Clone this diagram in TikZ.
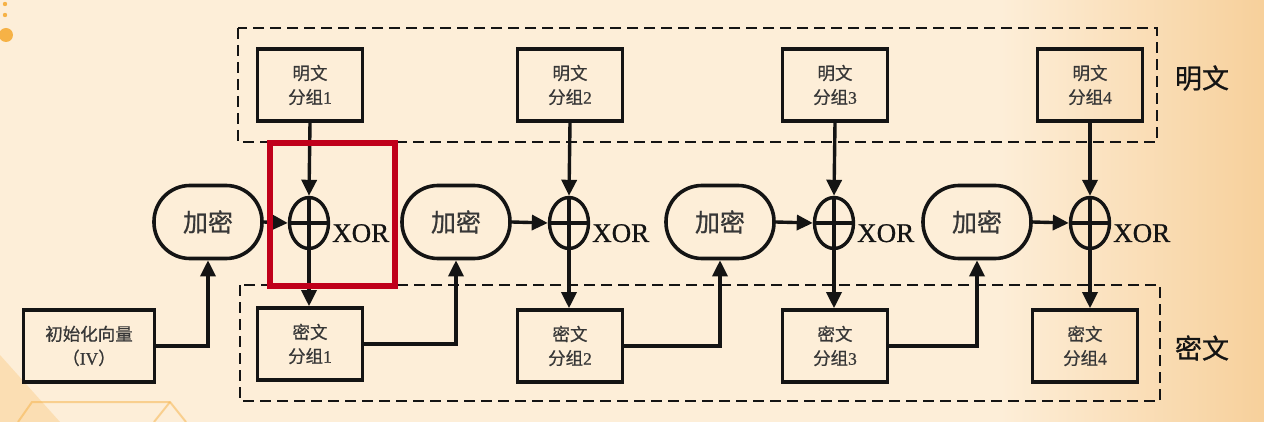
\documentclass[tikz,border=0pt]{standalone}
\usepackage{fontspec}
\setmainfont{Liberation Serif}
\newfontfamily\cjk[FakeBold=0.8]{Noto Sans CJK SC}
\newfontfamily\xorfont[FakeBold=0.8]{Liberation Serif}
\usetikzlibrary{arrows.meta,shapes.geometric}
\definecolor{bg}{RGB}{253,238,216}
\definecolor{bgR}{RGB}{247,208,155}
\definecolor{deco}{RGB}{246,178,70}
\definecolor{redbox}{RGB}{192,0,26}
\definecolor{ink}{RGB}{20,20,20}
\tikzset{
  blk/.style={draw=ink, line width=3.6pt, minimum width=105pt, minimum height=72pt, inner sep=0pt, align=center, text=ink!85, font=\cjk\fontsize{17.5}{24}\selectfont},
  enc/.style={draw=ink, line width=3.6pt, rounded corners=36pt, minimum width=108pt, minimum height=73pt, inner sep=0pt, text=ink!85, font=\cjk\fontsize{25}{28}\selectfont},
  xorc/.style={draw=ink, ellipse, line width=3.4pt, minimum width=39pt, minimum height=51pt, inner sep=0pt},
  xorlab/.style={anchor=base west, inner sep=0pt, text=ink, font=\xorfont\fontsize{27}{28}\selectfont},
  arr/.style={draw=ink, line width=3.4pt, -{Triangle[length=16pt,width=15pt]}},
  dbox/.style={draw=ink, line width=2.6pt, dash pattern=on 11pt off 6pt},
  side/.style={font=\cjk\fontsize{27}{30}\selectfont, text=ink, inner sep=0pt}
}
\newcommand{\dg}[1]{{\xorfont #1}}
\begin{document}
\begin{tikzpicture}[x=1pt,y=-1pt]
\useasboundingbox (0,0) rectangle (1264,422);
\fill[bg] (0,0) rectangle (1264,422);
\shade[left color=bg, right color=bgR] (1000,0) rectangle (1264,422);
% decorations
\fill[deco] (5,4) circle (2.2pt);
\fill[deco] (5,15) circle (2.2pt);
\fill[deco] (6,35) circle (7pt);
\fill[deco, opacity=0.25] (0,355) -- (0,422) -- (60,422) -- cycle;
\draw[deco, opacity=0.5, line width=2pt] (18,422) -- (32,402) -- (170,402) -- (186,422);
\draw[deco, opacity=0.5, line width=2pt] (170,402) -- (154,422);
% dashed groups
\draw[dbox] (238,28) rectangle (1157,142);
\draw[dbox] (240,285) rectangle (1160,401);
% plaintext blocks
\node[blk] (p1) at (310,85) {明文\\分组\dg{1}};
\node[blk] (p2) at (570,85) {明文\\分组\dg{2}};
\node[blk] (p3) at (835,85) {明文\\分组\dg{3}};
\node[blk] (p4) at (1090,85) {明文\\分组\dg{4}};
% encrypt
\node[enc] (e1) at (208,222) {加密};
\node[enc] (e2) at (456,222) {加密};
\node[enc] (e3) at (720,222) {加密};
\node[enc] (e4) at (977,222) {加密};
% xor
\foreach \i/\x in {1/309,2/569,3/834,4/1090}{
  \node[xorc] (x\i) at (\x,223) {};
  \draw[ink, line width=3.2pt] (x\i.north) -- (x\i.south);
  \draw[ink, line width=3.2pt] (x\i.west) -- (x\i.east);
  \node[xorlab] (xl\i) at (\x+23,242) {XOR};
}
% ciphertext blocks
\node[blk] (c1) at (310,344) {密文\\分组\dg{1}};
\node[blk] (c2) at (570,346) {密文\\分组\dg{2}};
\node[blk] (c3) at (835,346) {密文\\分组\dg{3}};
\node[blk] (c4) at (1085,346) {密文\\分组\dg{4}};
\node[blk, minimum width=131pt] (iv) at (89,346) {初始化向量\\（\dg{IV}）};
% side labels
\node[side] (lp) at (1202,78) {明文};
\node[side] (lc) at (1202,348) {密文};
% connectors
\foreach \i in {1,2,3,4}{
  \draw[arr] (p\i.south) -- (x\i.north);
  \draw[arr] (e\i.east) -- (x\i.west);
  \draw[arr] (x\i.south) -- (x\i.south |- c\i.north);
}
\draw[arr] (iv.east) -| (e1.south);
\draw[arr] (c1.east) -| (e2.south);
\draw[arr] (c2.east) -| (e3.south);
\draw[arr] (c3.east) -| (e4.south);
% highlight
\draw[redbox, line width=6pt] (270,143) rectangle (395,286);
\end{tikzpicture}
\end{document}
